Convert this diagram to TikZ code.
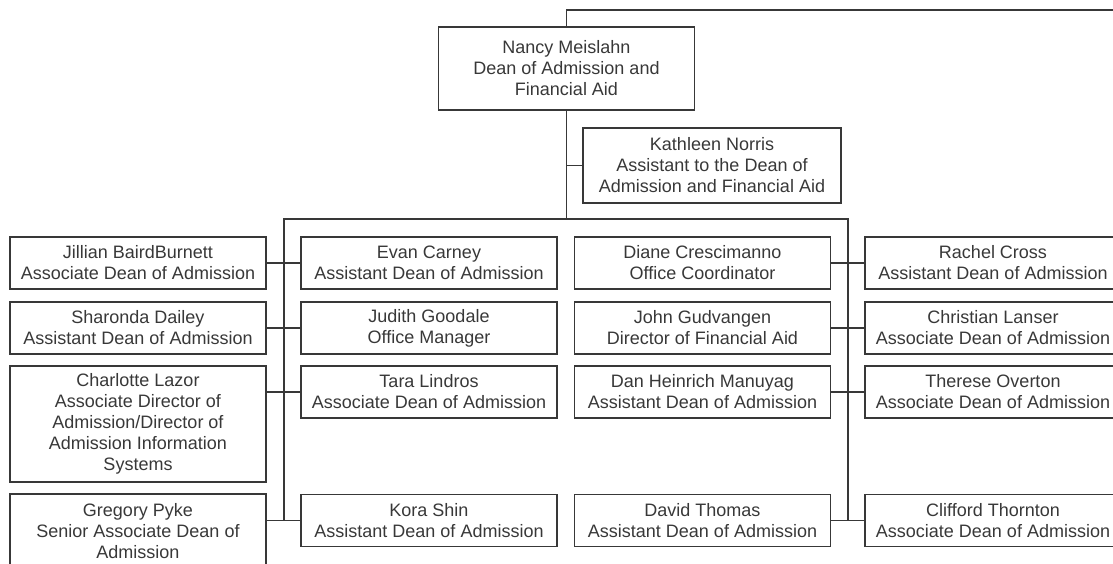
\documentclass[tikz,border=0pt]{standalone}
\usepackage{fontspec}
\setmainfont{Liberation Sans}
\definecolor{ink}{HTML}{383838}
\begin{document}
\begin{tikzpicture}[x=1pt,y=-1pt,
	person/.style={draw=ink,line width=1.5pt,text=ink,align=center,minimum width=256pt,minimum height=52pt,inner sep=0pt,font=\fontsize{18}{21}\selectfont},
	link/.style={draw=ink,line width=1.5pt}]
	\useasboundingbox (0,0) rectangle (1113,564);
	\clip (0,0) rectangle (1113,564);

	\node[person,minimum height=83pt] (Nancy) at (566.5,68.5) {Nancy Meislahn\\Dean of Admission and\\Financial Aid};
	\node[person,minimum height=75pt,minimum width=258pt] (Kathleen) at (712,165.5) {Kathleen Norris\\Assistant to the Dean of\\Admission and Financial Aid};

	\node[person] (Jillian) at (138,263) {Jillian BairdBurnett\\Associate Dean of Admission};
	\node[person] (Sharonda) at (138,328) {Sharonda Dailey\\Assistant Dean of Admission};
	\node[person,minimum height=116pt] (Charlotte) at (138,424) {Charlotte Lazor\\Associate Director of\\Admission/Director of\\Admission Information\\Systems};
	\node[person,minimum height=74pt] (Gregory) at (138,531) {Gregory Pyke\\Senior Associate Dean of\\Admission};

	\node[person] (Evan) at (429,263) {Evan Carney\\Assistant Dean of Admission};
	\node[person] (Judith) at (429,328) {Judith Goodale\\Office Manager};
	\node[person] (Tara) at (429,392) {Tara Lindros\\Associate Dean of Admission};
	\node[person] (Kora) at (429,520.5) {Kora Shin\\Assistant Dean of Admission};

	\node[person] (Diane) at (702.5,263) {Diane Crescimanno\\Office Coordinator};
	\node[person] (John) at (702.5,328) {John Gudvangen\\Director of Financial Aid};
	\node[person] (Dan) at (702.5,392) {Dan Heinrich Manuyag\\Assistant Dean of Admission};
	\node[person] (David) at (702.5,520.5) {David Thomas\\Assistant Dean of Admission};

	\node[person] (Rachel) at (993,263) {Rachel Cross\\Assistant Dean of Admission};
	\node[person] (Christian) at (993,328) {Christian Lanser\\Associate Dean of Admission};
	\node[person] (Therese) at (993,392) {Therese Overton\\Associate Dean of Admission};
	\node[person] (Clifford) at (993,520.5) {Clifford Thornton\\Associate Dean of Admission};

	\coordinate (topL) at (566.5,10);
	\coordinate (topR) at (1113,10);
	\coordinate (busL) at (284,219);
	\coordinate (busR) at (848,219);

	\draw[link] (Nancy.north) -- (topL) -- (topR);
	\draw[link] (Nancy.south) -- (Nancy.south |- busL);
	\draw[link] (Kathleen.west) -- (Kathleen.west -| Nancy.south);
	\draw[link] (busL |- Kora.west) -- (busL) -- (busR) -- (busR |- David.east);

	\draw[link] (Jillian.east) -- (Evan.west);
	\draw[link] (Sharonda.east) -- (Judith.west);
	\draw[link] (Tara.west -| Charlotte.east) -- (Tara.west);
	\draw[link] (Kora.west -| Gregory.east) -- (Kora.west);

	\draw[link] (Diane.east) -- (Rachel.west);
	\draw[link] (John.east) -- (Christian.west);
	\draw[link] (Dan.east) -- (Therese.west);
	\draw[link] (David.east) -- (Clifford.west);
\end{tikzpicture}
\end{document}
